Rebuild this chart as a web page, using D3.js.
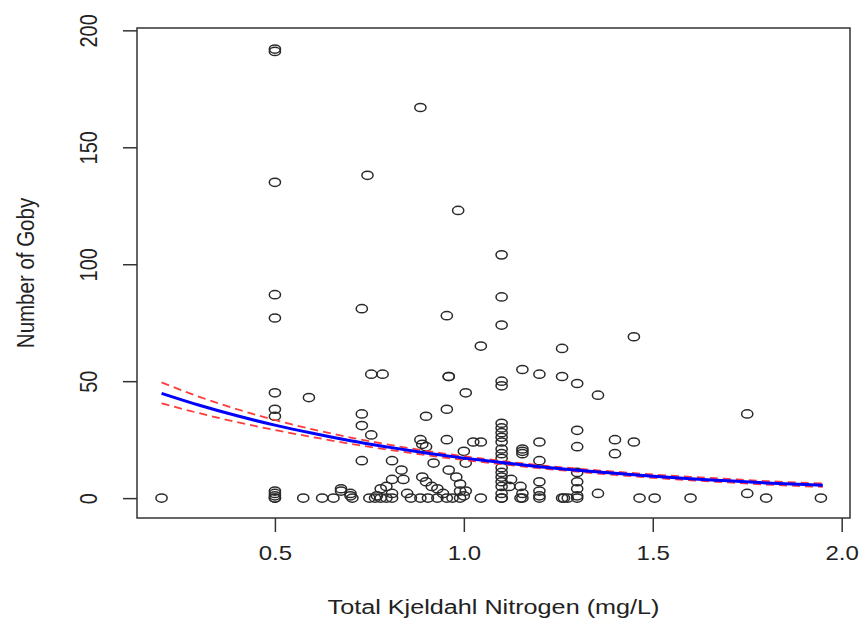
<!DOCTYPE html>
<html>
<head>
<meta charset="utf-8">
<script src="https://cdn.jsdelivr.net/npm/d3@7"></script>
<style>
  body { margin: 0; background: #fff; }
  text { font-family: "Liberation Sans", Arial, sans-serif; fill: #222; }
</style>
</head>
<body>
<div class="chart"></div>
<script>
// observed points: Total Kjeldahl Nitrogen (mg/L) and goby counts
var tkn = [
  0.2,
  0.5, 0.5, 0.5, 0.5, 0.5, 0.5, 0.5, 0.5, 0.5, 0.5, 0.5, 0.5, 0.5,
  0.59, 0.575, 0.625, 0.655, 0.675, 0.675, 0.7, 0.7, 0.705,
  0.73, 0.73, 0.73, 0.73, 0.745, 0.755, 0.755, 0.785,
  0.75, 0.765, 0.77, 0.78, 0.78, 0.795, 0.795, 0.81, 0.81, 0.81, 0.81,
  0.835, 0.84, 0.85, 0.86, 0.885, 0.885, 0.885, 0.89, 0.89, 0.9, 0.9, 0.9,
  0.905, 0.915, 0.92, 0.93, 0.93, 0.945, 0.955, 0.955, 0.955, 0.955,
  0.96, 0.96, 0.96, 0.97, 0.98, 0.985, 0.99, 0.99, 0.99, 1.0, 1.0,
  1.005, 1.005, 1.005, 1.025, 1.045, 1.045, 1.045,
  1.1, 1.1, 1.1, 1.1, 1.1, 1.1, 1.1, 1.1, 1.1, 1.1, 1.1, 1.1, 1.1, 1.1, 1.1, 1.1, 1.1, 1.1, 1.1, 1.1, 1.1,
  1.125, 1.12, 1.155, 1.155, 1.155, 1.155, 1.155, 1.155, 1.15, 1.15,
  1.2, 1.2, 1.2, 1.2, 1.2, 1.2, 1.2,
  1.26, 1.26, 1.26, 1.265, 1.275,
  1.3, 1.3, 1.3, 1.3, 1.3, 1.3, 1.3, 1.3,
  1.355, 1.355, 1.4, 1.4, 1.45, 1.45,
  1.465, 1.505, 1.6, 1.75, 1.75, 1.8, 1.945
];
var goby = [
  0,
  192, 191, 135, 87, 77, 45, 38, 35, 3, 2, 1, 0, 0,
  43, 0, 0, 0, 4, 3, 2, 1, 0,
  81, 36, 31, 16, 138, 53, 27, 53,
  0, 0, 1, 0, 4, 0, 5, 0, 2, 8, 16,
  12, 8, 2, 0, 167, 25, 0, 23, 9, 35, 22, 7,
  0, 5, 15, 4, 0, 2, 78, 38, 25, 0,
  52, 52, 12, 0, 9, 123, 6, 3, 0, 20, 1,
  45, 15, 3, 24, 65, 24, 0,
  104, 86, 74, 50, 48, 32, 30, 28, 26, 24, 21, 19, 17, 13, 11, 9, 7, 5, 2, 0, 0,
  8, 5, 55, 21, 20, 19, 2, 0, 5, 0,
  53, 24, 16, 7, 3, 1, 0,
  64, 52, 0, 0, 0,
  49, 29, 22, 11, 7, 4, 1, 0,
  44, 2, 25, 19, 69, 24,
  0, 0, 0, 36, 2, 0, 0
];

// fitted curve and its confidence band
var fitX     = [0.2, 0.3, 0.4, 0.5, 0.6, 0.7, 0.8, 0.9, 1.0, 1.1, 1.2, 1.3, 1.4, 1.5, 1.6, 1.7, 1.8, 1.95];
var fitMean  = [44.8, 39.7, 35.2, 31.2, 27.7, 24.5, 21.8, 19.3, 17.1, 15.2, 13.4, 11.9, 10.6, 9.4, 8.3, 7.4, 6.5, 5.5];
var fitUpper = [49.5, 43.3, 38.0, 33.4, 29.4, 25.9, 22.9, 20.2, 17.9, 15.9, 14.1, 12.6, 11.3, 10.1, 9.1, 8.2, 7.3, 6.3];
var fitLower = [40.5, 36.3, 32.5, 29.1, 26.1, 23.2, 20.7, 18.4, 16.3, 14.5, 12.8, 11.3, 9.9, 8.7, 7.6, 6.7, 5.8, 4.8];

var xTicks = [0.5, 1.0, 1.5, 2.0];
var yTicks = [0, 50, 100, 150, 200];

var svgWidth = 863;
var svgHeight = 643;
var box = { left: 137, right: 850, top: 28, bottom: 518 };
var stretch = 1.2; // the picture is a bit wider than tall, text too

var svg = d3.select(".chart")
  .append("svg")
  .attr("width", svgWidth)
  .attr("height", svgHeight);

var x = d3.scaleLinear().domain([0.135, 2.022]).range([box.left, box.right]);
var y = d3.scaleLinear().domain([-8.5, 201]).range([box.bottom, box.top]);

// frame
svg.append("rect")
  .attr("x", box.left)
  .attr("y", box.top)
  .attr("width", box.right - box.left)
  .attr("height", box.bottom - box.top)
  .attr("fill", "none")
  .attr("stroke", "#333")
  .attr("stroke-width", 1.5);

// axes
var bottomAxis = d3.axisBottom(x).tickValues(xTicks).tickSize(14).tickFormat(d3.format(".1f"));
var leftAxis = d3.axisLeft(y).tickValues(yTicks).tickSize(14).tickFormat(d3.format("d"));

var gx = svg.append("g")
  .attr("transform", `translate(0, ${box.bottom})`)
  .call(bottomAxis);
var gy = svg.append("g")
  .attr("transform", `translate(${box.left}, 0)`)
  .call(leftAxis);

[gx, gy].forEach(function(g) {
  g.select(".domain").remove();
  g.selectAll("line").attr("stroke", "#333").attr("stroke-width", 1.5);
});

gx.selectAll("text")
  .attr("y", 0).attr("dy", null)
  .attr("font-size", 20)
  .attr("text-anchor", "middle")
  .attr("transform", `translate(0, 42) scale(${stretch}, 1)`)
  .attr("fill", "#222");

gy.selectAll("text")
  .attr("x", 0).attr("dy", null)
  .attr("font-size", 20)
  .attr("text-anchor", "middle")
  .attr("transform", `translate(-40, 0) scale(${stretch}, 1) rotate(-90)`)
  .attr("fill", "#222");

// axis titles
svg.append("text")
  .attr("transform", `translate(${(box.left + box.right) / 2}, 614) scale(${stretch}, 1)`)
  .attr("text-anchor", "middle")
  .attr("font-size", 21)
  .text("Total Kjeldahl Nitrogen (mg/L)");

svg.append("text")
  .attr("transform", `translate(34, ${(box.top + box.bottom) / 2}) scale(${stretch}, 1) rotate(-90)`)
  .attr("text-anchor", "middle")
  .attr("font-size", 20.5)
  .text("Number of Goby");

// points
var points = tkn.map(function(d, i) { return { tkn: d, goby: goby[i] }; });

svg.append("g")
  .selectAll("ellipse")
  .data(points)
  .enter()
  .append("ellipse")
  .attr("cx", d => x(d.tkn))
  .attr("cy", d => y(d.goby))
  .attr("rx", 5.6)
  .attr("ry", 4.1)
  .attr("fill", "none")
  .attr("stroke", "#2a2a2a")
  .attr("stroke-width", 1.5);

// fitted curve + band
var curveLine = d3.line()
  .x((d, i) => x(fitX[i]))
  .y(d => y(d))
  .curve(d3.curveMonotoneX);

svg.append("path")
  .attr("d", curveLine(fitUpper))
  .attr("fill", "none")
  .attr("stroke", "#ff3b3b")
  .attr("stroke-width", 1.8)
  .attr("stroke-dasharray", "8,5");

svg.append("path")
  .attr("d", curveLine(fitLower))
  .attr("fill", "none")
  .attr("stroke", "#ff3b3b")
  .attr("stroke-width", 1.8)
  .attr("stroke-dasharray", "8,5");

svg.append("path")
  .attr("d", curveLine(fitMean))
  .attr("fill", "none")
  .attr("stroke", "#0000ff")
  .attr("stroke-width", 3);
</script>
</body>
</html>
